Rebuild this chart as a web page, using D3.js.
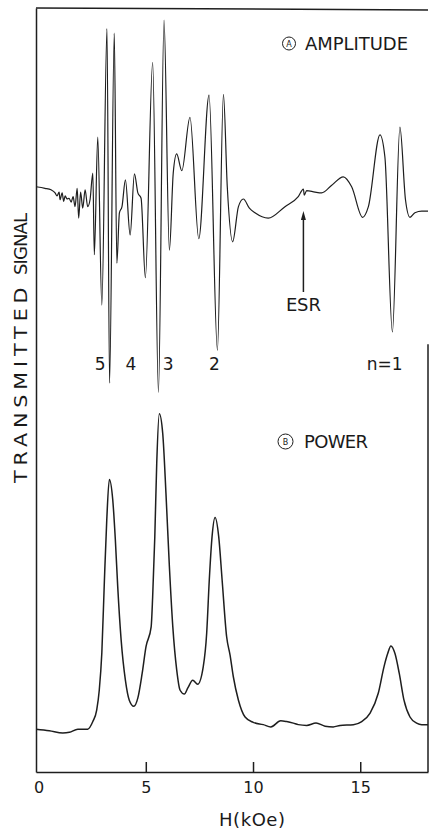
<!DOCTYPE html>
<html>
<head>
<meta charset="utf-8">
<script src="https://cdn.jsdelivr.net/npm/d3@7"></script>
<style>
  body { margin: 0; background: #fff; }
  svg { display: block; }
  text { font-family: "DejaVu Sans", sans-serif; fill: #1a1a1a; }
</style>
</head>
<body>
<div id="chart"></div>
<script>
//DATA, signal is in arbitrary units (0 = bottom axis, 100 = top frame)
//field in kOe
const amplitudeH = [-0.12, 0.30, 0.58, 0.77, 0.86, 0.96, 1.00, 1.10, 1.17, 1.24, 1.33, 1.42, 1.52, 1.61, 1.70, 1.80, 1.87, 1.96, 2.06, 2.17,
  2.29, 2.40, 2.53, 2.60, 2.76, 2.95, 3.19, 3.31, 3.53, 3.65, 3.77, 3.89, 4.05, 4.27, 4.47, 4.63, 4.78, 4.98, 5.32, 5.59,
  5.85, 6.10, 6.28, 6.44, 6.68, 7.06, 7.47, 7.95, 8.34, 8.62, 8.80, 9.05, 9.32, 9.55, 9.83, 10.09, 10.71, 11.49, 12.11, 12.35,
  12.39, 12.50, 12.89, 13.20, 13.67, 14.21, 14.60, 15.11, 15.38, 15.92, 16.15, 16.50, 16.85, 17.11, 17.32, 17.55, 17.87, 18.16];
const amplitudeSignal = [76.6, 76.4, 76.2, 75.8, 75.4, 75.9, 74.9, 75.8, 74.7, 75.4, 75.0, 75.1, 74.6, 75.3, 74.0, 76.4, 72.5, 75.9, 73.8, 76.2,
  74.0, 74.9, 78.4, 67.7, 83.1, 61.1, 97.3, 50.9, 96.7, 66.6, 73.2, 74.0, 77.5, 70.3, 78.3, 75.8, 75.1, 64.7, 92.9, 49.7,
  98.4, 68.3, 78.4, 80.9, 78.7, 85.7, 69.8, 88.6, 55.2, 88.7, 76.6, 69.4, 74.0, 75.0, 73.8, 73.2, 72.5, 74.0, 75.3, 76.3,
  75.5, 76.1, 75.9, 75.8, 76.8, 77.9, 76.6, 72.6, 74.0, 83.4, 80.5, 57.6, 84.4, 74.9, 72.6, 73.2, 73.4, 73.4];

const powerH = [-0.12, 0.50, 1.13, 1.44, 1.83, 2.29, 2.53, 2.71, 2.83, 2.95, 3.07, 3.18, 3.30, 3.46, 3.58, 3.69, 3.85, 4.05, 4.23, 4.44,
  4.63, 4.83, 5.01, 5.25, 5.32, 5.42, 5.51, 5.63, 5.79, 5.94, 6.10, 6.26, 6.44, 6.60, 6.80, 6.96, 7.19, 7.42, 7.68, 7.84,
  7.96, 8.09, 8.23, 8.40, 8.56, 8.77, 8.93, 9.08, 9.32, 9.63, 10.01, 10.48, 10.83, 11.29, 11.57, 11.88, 12.11, 12.50, 12.94, 13.36,
  13.74, 14.06, 14.68, 15.07, 15.46, 15.84, 16.11, 16.28, 16.43, 16.62, 16.82, 17.04, 17.32, 17.63, 17.87, 18.16];
const powerSignal = [5.6, 5.4, 5.1, 5.2, 5.6, 5.6, 6.6, 8.1, 10.7, 15.6, 25.1, 33.0, 38.3, 35.6, 30.4, 24.3, 17.3, 12.0, 9.4, 8.6,
  9.7, 12.9, 16.4, 19.0, 22.9, 30.8, 40.4, 46.9, 44.3, 36.5, 26.9, 19.0, 13.4, 10.7, 10.2, 11.0, 12.0, 11.5, 13.8, 18.2,
  25.1, 30.8, 33.3, 30.8, 25.1, 17.7, 15.3, 12.5, 9.4, 7.2, 6.5, 6.2, 5.9, 6.7, 6.6, 6.4, 6.2, 6.1, 6.4, 6.0,
  5.9, 6.1, 6.2, 6.6, 7.7, 10.3, 13.8, 15.5, 16.5, 15.5, 12.9, 9.4, 7.2, 6.4, 6.2, 6.2];

const tickValues = [0, 5, 10, 15];
//resonance numbers under the amplitude trace
const peakLabels = ["5", "4", "3", "2", "n=1"];
const peakLabelH = [2.87, 4.31, 6.04, 8.20, 16.14];
const esrH = 12.35;

//CONFIG
const width = 429, height = 829;
const lineColor = "#1e1e1e";

const svg = d3.select("#chart").append("svg")
  .attr("width", width)
  .attr("height", height);

const x = d3.scaleLinear().domain([-0.12, 18.16]).range([36, 428]);
const y = d3.scaleLinear().domain([0, 100]).range([772, 8]);

// bottom axis, ticks point up into the plot
const xAxis = svg.append("g")
  .attr("transform", "translate(0," + y(0) + ")")
  .call(d3.axisBottom(x).tickValues(tickValues).tickSize(-10).tickSizeOuter(0).tickPadding(10));
xAxis.selectAll(".tick line").attr("stroke", lineColor).attr("stroke-width", 1.5);
xAxis.selectAll(".tick").filter(d => d === 0).select("line").remove();
xAxis.select(".domain").attr("stroke", lineColor).attr("stroke-width", 1.5);
xAxis.selectAll("text").style("font-size", "16px").attr("font-family", null).attr("fill", lineColor);

// left axis is just the line
const yAxis = svg.append("g")
  .attr("transform", "translate(" + x.range()[0] + ",0)")
  .call(d3.axisLeft(y).tickValues([]).tickSizeOuter(0));
yAxis.select(".domain").attr("stroke", lineColor).attr("stroke-width", 1.5);

// top of the frame and the bit of right edge that shows on the scan
svg.append("line")
  .attr("x1", x.range()[0]).attr("x2", x.range()[1])
  .attr("y1", y(100)).attr("y2", y(100) + 2)
  .attr("stroke", lineColor).attr("stroke-width", 1.5);
svg.append("line")
  .attr("x1", x.range()[1]).attr("x2", x.range()[1])
  .attr("y1", y(56)).attr("y2", y(0))
  .attr("stroke", lineColor).attr("stroke-width", 1.5);

// traces
const line = d3.line()
  .x(d => x(d[0]))
  .y(d => y(d[1]))
  .curve(d3.curveMonotoneX);

svg.append("path")
  .datum(d3.zip(amplitudeH, amplitudeSignal))
  .attr("fill", "none")
  .attr("stroke", lineColor)
  .attr("stroke-width", 1.2)
  .attr("d", line);

svg.append("path")
  .datum(d3.zip(powerH, powerSignal))
  .attr("fill", "none")
  .attr("stroke", lineColor)
  .attr("stroke-width", 1.5)
  .attr("d", line);

// resonance labels
svg.selectAll(".peak")
  .data(peakLabels)
  .enter()
  .append("text")
  .attr("class", "peak")
  .attr("x", (d, i) => x(peakLabelH[i]))
  .attr("y", 370)
  .attr("text-anchor", "middle")
  .style("font-size", "17px")
  .text(d => d);

// ESR arrow
svg.append("line")
  .attr("x1", x(esrH)).attr("x2", x(esrH))
  .attr("y1", 292).attr("y2", 218)
  .attr("stroke", lineColor).attr("stroke-width", 1.5);
svg.append("path")
  .attr("d", "M" + x(esrH) + ",211 l-2.5,9 l5,0 z")
  .attr("fill", lineColor);
svg.append("text")
  .attr("x", x(esrH)).attr("y", 311)
  .attr("text-anchor", "middle")
  .attr("textLength", 35)
  .style("font-size", "18px")
  .text("ESR");

// panel titles with the circled letters
function panelTitle(cx, cy, r, letter, label, tx, ty, len) {
  svg.append("circle")
    .attr("cx", cx).attr("cy", cy).attr("r", r)
    .attr("fill", "none").attr("stroke", lineColor).attr("stroke-width", 1);
  svg.append("text")
    .attr("x", cx).attr("y", cy + 3)
    .attr("text-anchor", "middle")
    .style("font-size", "8px")
    .text(letter);
  svg.append("text")
    .attr("x", tx).attr("y", ty)
    .attr("textLength", len)
    .style("font-size", "18px")
    .text(label);
}
panelTitle(289, 43.5, 6.5, "A", "AMPLITUDE", 305, 50, 103);
panelTitle(285.5, 441.5, 7.5, "B", "POWER", 304, 448, 64);

// axis titles
svg.append("text")
  .attr("x", 252).attr("y", 826)
  .attr("text-anchor", "middle")
  .attr("textLength", 66)
  .style("font-size", "18px")
  .text("H(kOe)");

//vertical label is two words with a big gap so do them separately
//the lettering on the scan is wide, so stretch the glyphs a little
svg.append("text")
  .attr("transform", "translate(26.5,483) rotate(-90) scale(1.15,1)")
  .attr("textLength", 170)
  .style("font-size", "18px")
  .text("TRANSMITTED");
svg.append("text")
  .attr("transform", "translate(26.5,275) rotate(-90)")
  .attr("textLength", 62)
  .style("font-size", "18px")
  .text("SIGNAL");
</script>
</body>
</html>
